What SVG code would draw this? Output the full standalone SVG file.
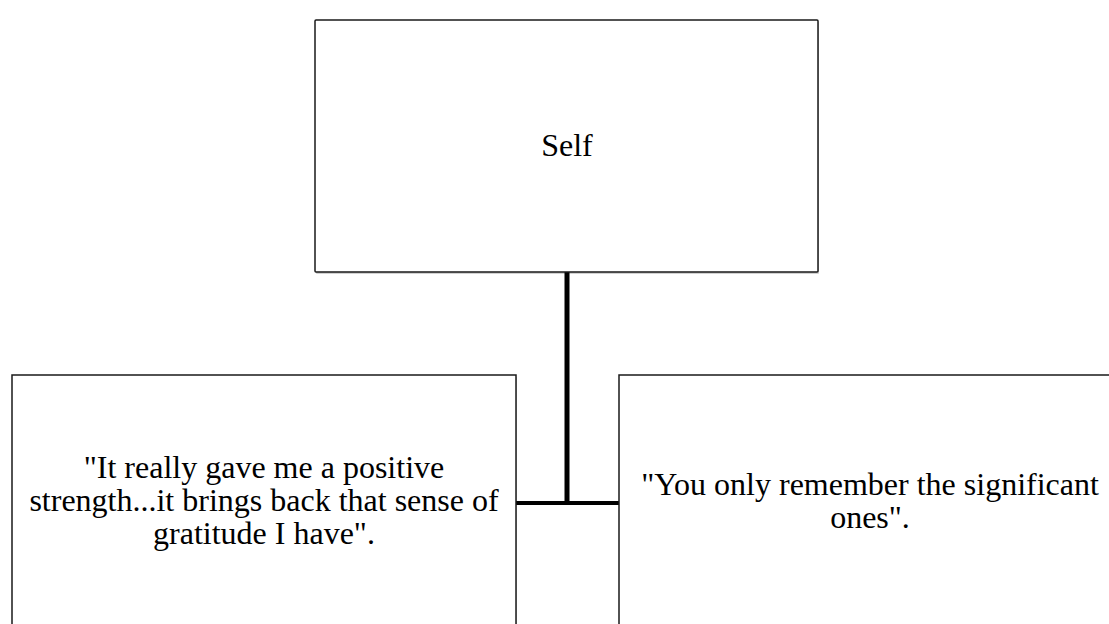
<svg xmlns="http://www.w3.org/2000/svg" width="1109" height="624" viewBox="0 0 1109 624">
  <defs>
    <style>
      .box { fill: #ffffff; stroke: #1a1a1a; stroke-width: 1.5; }
      .shadow { fill: #000000; opacity: 0.18; }
      .label { font-family: "Liberation Serif", "Times New Roman", serif; font-size: 32px; fill: #000000; text-anchor: middle; }
      .conn { stroke: #000000; fill: none; stroke-linecap: butt; }
    </style>
  </defs>
  <rect width="1109" height="624" fill="#ffffff"/>
  <g id="connectors">
    <line class="conn" x1="567" y1="272" x2="567" y2="505" stroke-width="5"/>
    <line class="conn" x1="516" y1="503" x2="619" y2="503" stroke-width="4"/>
  </g>
  <g id="node-self">
    <rect class="shadow" x="316" y="22" width="503" height="252" rx="1"/>
    <rect class="box" x="315" y="20" width="503" height="252" rx="1"/>
    <text class="label" x="567" y="156">Self</text>
  </g>
  <g id="node-left">
    <rect class="shadow" x="13" y="377" width="504" height="260"/>
    <rect class="box" x="12" y="375" width="504" height="260"/>
    <text class="label" x="264" y="478">"It really gave me a positive</text>
    <text class="label" x="264" y="511">strength...it brings back that sense of</text>
    <text class="label" x="264" y="544">gratitude I have".</text>
  </g>
  <g id="node-right">
    <rect class="shadow" x="620" y="377" width="504" height="260"/>
    <rect class="box" x="619" y="375" width="504" height="260"/>
    <text class="label" x="870" y="495">"You only remember the significant</text>
    <text class="label" x="870" y="528">ones".</text>
  </g>
</svg>
